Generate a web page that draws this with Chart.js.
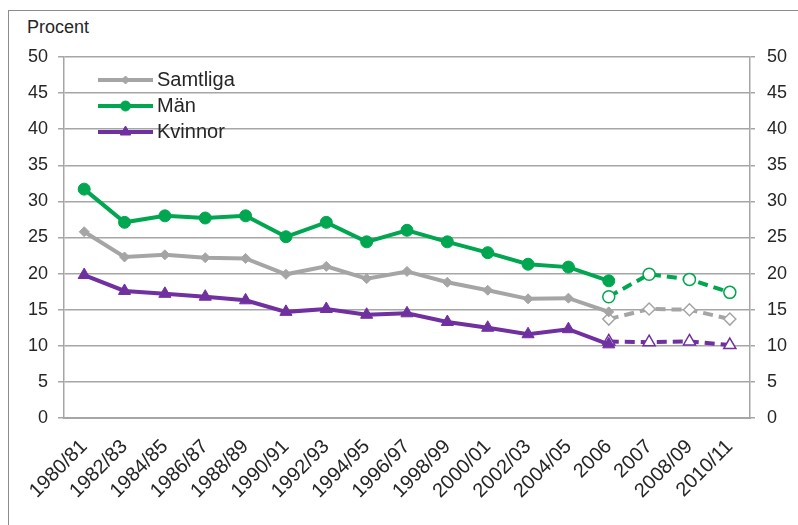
<!DOCTYPE html>
<html>
<head>
<meta charset="utf-8">
<script src="https://cdn.jsdelivr.net/npm/chart.js@4/dist/chart.umd.min.js"></script>
<style>
  html, body { margin: 0; padding: 0; background: #fff; }
  #wrap { position: relative; width: 798px; height: 525px; overflow: hidden; }
  #frame { position: absolute; left: 8px; top: 10px; width: 820px; height: 540px;
           border-left: 1px solid #8c8c8c; border-top: 1px solid #8c8c8c; }
  #unit { position: absolute; left: 27px; top: 17px; font: 18px "Liberation Sans", Arial, sans-serif; color: #262626; }
  canvas { position: absolute; left: 0; top: 0; }
</style>
</head>
<body>
<div id="wrap">
  <div id="frame"></div>
  <div id="unit">Procent</div>
  <canvas id="c" width="798" height="525"></canvas>
</div>
<script>
// Survey years (x axis)
const categories = ['1980/81', '1982/83', '1984/85', '1986/87', '1988/89', '1990/91', '1992/93',
  '1994/95', '1996/97', '1998/99', '2000/01', '2002/03', '2004/05', '2006', '2007', '2008/09', '2010/11'];

// Older survey series, 1980/81 - 2006 (percent)
const samtliga = [25.8, 22.3, 22.6, 22.2, 22.1, 19.9, 21.0, 19.3, 20.3, 18.8, 17.7, 16.5, 16.6, 14.7];
const man      = [31.7, 27.1, 28.0, 27.7, 28.0, 25.1, 27.1, 24.4, 26.0, 24.4, 22.9, 21.3, 20.9, 19.0];
const kvinnor  = [19.8, 17.6, 17.2, 16.8, 16.3, 14.7, 15.1, 14.3, 14.5, 13.3, 12.5, 11.6, 12.3, 10.2];

// New survey series, 2006 - 2010/11 (percent)
const samtligaNy = [13.7, 15.1, 15.0, 13.7];
const manNy      = [16.8, 19.9, 19.2, 17.4];
const kvinnorNy  = [10.6, 10.5, 10.6, 10.1];

// Y axis ticks
const yMin = 0, yMax = 50, yStep = 5;

const FONT = '"Liberation Sans", Arial, sans-serif';
const GRID = '#a6a6a6';
const TEXT = '#262626';
const GRAY = '#a5a5a5';
const GREEN = '#00a650';
const PURPLE = '#7030a0';

// place the new-survey values at the end of the category axis
const newStart = categories.indexOf('2006');
const alignNew = vals => categories.map((_, i) => (i >= newStart && i - newStart < vals.length) ? vals[i - newStart] : null);

function solid(label, data, color, style, radius) {
  return {
    label, data, borderColor: color, backgroundColor: color, borderWidth: 4,
    pointStyle: style, pointRadius: radius, pointBackgroundColor: color, pointBorderColor: color,
    pointBorderWidth: 1, tension: 0, spanGaps: false
  };
}
function dashed(label, data, color, style, radius) {
  return {
    label, data: alignNew(data), borderColor: color, backgroundColor: '#fff', borderWidth: 4,
    borderDash: [10, 6], pointStyle: style, pointRadius: radius, pointBackgroundColor: '#fff',
    pointBorderColor: color, pointBorderWidth: 1.5, tension: 0, spanGaps: false
  };
}

// Legend drawn inside the plot area: line with its marker, then the label
const insetLegend = {
  id: 'insetLegend',
  afterDraw(chart) {
    const { ctx, chartArea } = chart;
    const x0 = chartArea.left + 34, len = 55;
    chart.data.datasets.slice(0, 3).forEach((ds, i) => {
      const y = chartArea.top + 23 + i * 26;
      ctx.save();
      ctx.strokeStyle = ds.borderColor;
      ctx.lineWidth = 4;
      ctx.beginPath();
      ctx.moveTo(x0, y);
      ctx.lineTo(x0 + len, y);
      ctx.stroke();
      ctx.fillStyle = ds.pointBackgroundColor;
      ctx.strokeStyle = ds.pointBorderColor;
      ctx.lineWidth = 1;
      Chart.helpers.drawPoint(ctx, { pointStyle: ds.pointStyle, radius: ds.pointRadius - 1, rotation: 0, borderWidth: 1 }, x0 + len / 2, y);
      ctx.fillStyle = TEXT;
      ctx.font = '20px ' + FONT;
      ctx.textBaseline = 'middle';
      ctx.textAlign = 'left';
      ctx.fillText(ds.label, x0 + len + 4, y);
      ctx.restore();
    });
  }
};

new Chart(document.getElementById('c'), {
  type: 'line',
  data: {
    labels: categories,
    datasets: [
      solid('Samtliga', samtliga, GRAY, 'rectRot', 5),
      solid('Män', man, GREEN, 'circle', 6),
      solid('Kvinnor', kvinnor, PURPLE, 'triangle', 7),
      dashed('Samtliga (ny)', samtligaNy, GRAY, 'rectRot', 6),
      dashed('Män (ny)', manNy, GREEN, 'circle', 6),
      dashed('Kvinnor (ny)', kvinnorNy, PURPLE, 'triangle', 7)
    ]
  },
  options: {
    responsive: false,
    animation: false,
    layout: { padding: { top: 57, left: 0, right: 0, bottom: 0 } },
    plugins: { legend: { display: false }, tooltip: { enabled: false } },
    scales: {
      x: {
        type: 'category',
        offset: true,
        grid: { display: false },
        border: { display: true, color: GRID, width: 2 },
        ticks: { autoSkip: false, minRotation: 45, maxRotation: 45, padding: 9,
                 color: TEXT, font: { family: FONT, size: 20 } },
        afterFit: s => { s.height = 107; }
      },
      y: {
        position: 'left',
        min: yMin, max: yMax,
        ticks: { stepSize: yStep, padding: 10, color: TEXT, font: { family: FONT, size: 18 } },
        grid: { color: GRID, lineWidth: 1.5, tickLength: 6 },
        border: { display: true, color: GRID, width: 1.5 },
        afterFit: s => { s.width = 64; }
      },
      y2: {
        position: 'right',
        min: yMin, max: yMax,
        ticks: { stepSize: yStep, padding: 12, color: TEXT, font: { family: FONT, size: 18 } },
        grid: { drawOnChartArea: false, color: GRID, lineWidth: 1.5, tickLength: 5 },
        border: { display: true, color: GRID, width: 1.5 },
        afterFit: s => { s.width = 48; }
      }
    }
  },
  plugins: [insetLegend]
});
</script>
</body>
</html>
